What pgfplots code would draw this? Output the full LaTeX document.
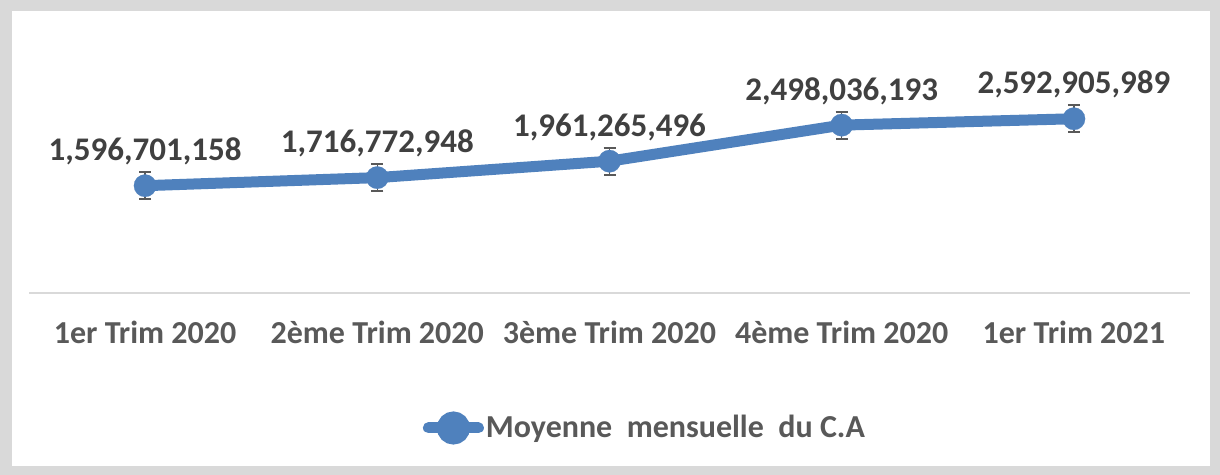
\documentclass[border=0pt]{standalone}
\usepackage{fontspec}
\setmainfont{Carlito}
\usepackage{pgfplots}
\usepackage{pgfplotstable}
\pgfplotsset{compat=1.18}
\definecolor{serie}{HTML}{4F81BD}
\definecolor{labtxt}{HTML}{404040}
\definecolor{ticktxt}{HTML}{595959}
\definecolor{cadre}{HTML}{D9D9D9}

\pgfplotstableread{
x y err label
0 1596701158 200000000 1,596,701,158
1 1716772948 200000000 1,716,772,948
2 1961265496 200000000 1,961,265,496
3 2498036193 200000000 2,498,036,193
4 2592905989 200000000 2,592,905,989
}\datatrim

\begin{document}
\begin{tikzpicture}
% cadre gris autour du graphique
\fill[cadre] (0,0) rectangle (610pt,237.5pt);
\fill[white] (6pt,4.5pt) rectangle (605pt,232pt);
\begin{axis}[
    at={(14.5pt,91pt)}, anchor=south west,
    scale only axis,
    width=580.5pt, height=100.8pt,
    xmin=-0.5, xmax=4.5,
    ymin=0, ymax=3e9,
    clip=false,
    axis y line=none,
    axis x line*=bottom,
    x axis line style={draw=cadre, line width=0.75pt, -},
    xtick=data,
    xticklabels={1er Trim 2020, 2ème Trim 2020, 3ème Trim 2020, 4ème Trim 2020, 1er Trim 2021},
    major tick length=0pt,
    xticklabel style={font=\bfseries\fontsize{16}{19}\selectfont, text=ticktxt, anchor=center, yshift=-19.5pt},
    legend style={at={(0.5306,0)}, anchor=center, yshift=-67.5pt, draw=none, fill=none,
        font=\bfseries\fontsize{16}{19}\selectfont, text=ticktxt,
        nodes={inner xsep=1pt}},
    legend image code/.code={
        \draw[line width=5.5pt, line cap=round, draw=serie] (-3pt,0) -- (22pt,0);
        \fill[serie] (9.5pt,0) circle (5.5pt);
    },
]
\addplot[
    serie, line width=5.5pt,
    mark=*, mark size=5.6pt,
    mark options={fill=serie, draw=serie, line width=0.1pt},
    error bars/.cd, y dir=both, y explicit,
    error bar style={color=ticktxt, line width=0.75pt},
    error mark options={rotate=90, mark size=3pt, color=ticktxt, line width=1pt},
] table[x=x, y=y, y error=err] {\datatrim};
\addplot[
    draw=none, mark=none,
    nodes near coords,
    point meta=explicit symbolic,
    nodes near coords style={font=\bfseries\fontsize{16.5}{19}\selectfont, text=labtxt, anchor=center, yshift=17pt},
    forget plot,
] table[x=x, y=y, meta=label] {\datatrim};
\legend{Moyenne\ \ mensuelle\ \ du C.A}
\end{axis}
\end{tikzpicture}
\end{document}
